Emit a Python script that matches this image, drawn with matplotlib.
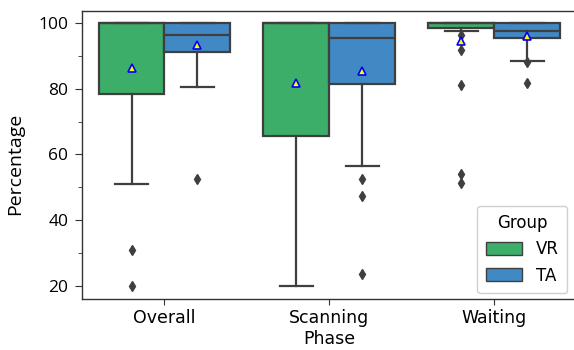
import matplotlib
matplotlib.use("Agg")
import matplotlib.pyplot as plt
from matplotlib.patches import Patch

# data (percentages)
phases = ["Overall", "Scanning", "Waiting"]
groups = ["VR", "TA"]
colors = {"VR": "#3DAE69", "TA": "#4189C5"}

q1 = {"VR": [78.4, 65.7, 98.5], "TA": [91.2, 81.4, 95.4]}
med = {"VR": [100.0, 100.0, 100.0], "TA": [96.4, 95.4, 97.7]}
q3 = {"VR": [100.0, 100.0, 100.0], "TA": [100.0, 100.0, 100.0]}
whislo = {"VR": [51.0, 20.0, 97.7], "TA": [80.6, 56.6, 88.5]}
whishi = {"VR": [100.0, 100.0, 100.0], "TA": [100.0, 100.0, 100.0]}
means = {"VR": [86.3, 81.7, 94.7], "TA": [93.4, 85.5, 96.1]}
fliers = {
    "VR": [[30.9, 20.0], [], [96.4, 91.9, 81.2, 54.1, 51.2]],
    "TA": [[52.5], [52.5, 47.3, 23.5], [88.2, 81.7]],
}

dark = "#3F3F3F"
fig = plt.figure(figsize=(5.74, 3.5), dpi=100)
ax = fig.add_axes([0.1429, 0.1457, 0.862, 0.823])

offsets = {"VR": -0.2, "TA": 0.2}
for g in groups:
    stats = []
    for i in range(len(phases)):
        stats.append(dict(q1=q1[g][i], med=med[g][i], q3=q3[g][i],
                          whislo=whislo[g][i], whishi=whishi[g][i],
                          mean=means[g][i], fliers=fliers[g][i]))
    pos = [i + offsets[g] for i in range(len(phases))]
    ax.bxp(stats, positions=pos, widths=0.4, patch_artist=True,
           showmeans=True, manage_ticks=False,
           boxprops=dict(facecolor=colors[g], edgecolor=dark, linewidth=1.6),
           medianprops=dict(color=dark, linewidth=1.6),
           whiskerprops=dict(color=dark, linewidth=1.6),
           capprops=dict(color=dark, linewidth=1.6),
           meanprops=dict(marker="^", markerfacecolor="yellow",
                          markeredgecolor="blue", markersize=6,
                          markeredgewidth=1.2),
           flierprops=dict(marker="d", markerfacecolor=dark,
                           markeredgecolor=dark, markersize=5))

ax.set_xlim(-0.5, 2.5)
ax.set_ylim(15.9, 103.75)
ax.set_xticks(range(len(phases)))
ax.set_xticklabels(phases, fontsize=12.5, family="DejaVu Sans")
ax.set_yticks([20, 40, 60, 80, 100])
ax.set_yticks([30, 50, 70, 90], minor=True)
for lab in ax.get_yticklabels():
    lab.set_family("Open Sans")
    lab.set_fontsize(12.5)
ax.tick_params(axis="x", which="major", length=4, color="#333333")
ax.tick_params(axis="y", which="major", length=5, pad=5, color="#333333")
ax.tick_params(axis="y", which="minor", length=3, color="#333333")
ax.set_xlabel("Phase", fontsize=12.5, family="DejaVu Sans", labelpad=2)
ax.set_ylabel("Percentage", fontsize=14, family="Open Sans")
ax.yaxis.set_label_coords(-0.118, 0.47)
for s in ax.spines.values():
    s.set_color("#333333")
    s.set_linewidth(1.0)

handles = [Patch(facecolor=colors[g], edgecolor=dark, label=g) for g in groups]
leg = ax.legend(handles=handles, title="Group", loc="lower right",
                bbox_to_anchor=(0.98, 0.021), borderaxespad=0,
                fontsize=12, title_fontsize=12,
                handlelength=2.2, handleheight=0.8, borderpad=0.5,
                framealpha=1)
leg.get_frame().set_edgecolor("#D0D0D0")

fig.savefig("out.png", dpi=100)
